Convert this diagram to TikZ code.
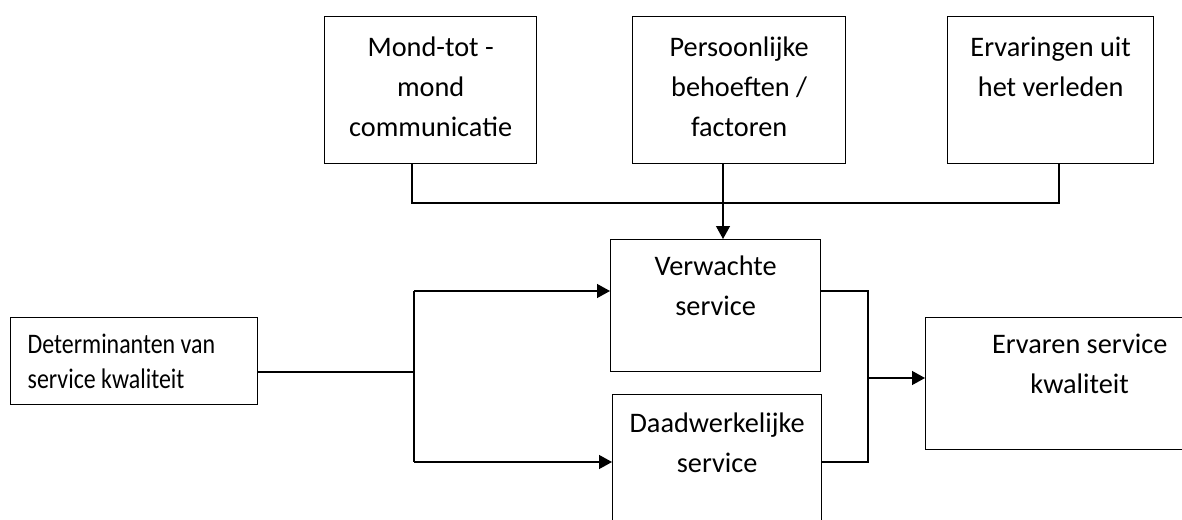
\documentclass[tikz,border=0pt]{standalone}
\usepackage{fontspec}
\usepackage{graphicx}
\setmainfont{Carlito}
\usetikzlibrary{arrows.meta}
\newcommand{\boxlines}[4]{\parbox[c][#2][t]{#1}{\centering\rule{0pt}{#3}#4}}
\newcommand{\narrow}[1]{\scalebox{0.845}[1]{#1}}

\begin{document}
\begin{tikzpicture}[x=1pt, y=-1pt,
	box/.style={draw, line width=1.3pt, inner sep=0pt, anchor=north west},
	link/.style={line width=1.3pt},
	arrow/.style={link, -{Triangle[length=13pt, width=14pt]}},
	font=\fontsize{28.3}{40}\selectfont]
\useasboundingbox (0,0) rectangle (1182,519);
\clip (0,0) rectangle (1182,519);
\node[box] (mond) at (324,16) {\boxlines{212pt}{147pt}{40pt}{Mond-tot -\\mond\\communicatie}};
\node[box] (persoon) at (632,16) {\boxlines{213pt}{147pt}{40pt}{Persoonlijke\\behoeften /\\factoren}};
\node[box] (ervaring) at (947,16) {\boxlines{206pt}{147pt}{40pt}{Ervaringen uit\\het verleden}};
\node[box] (verwacht) at (610,239) {\boxlines{210pt}{132pt}{36pt}{Verwachte\\service}};
\node[box] (daad) at (612,394) {\boxlines{209pt}{140pt}{38pt}{Daadwerkelijke\\service}};
\node[box] (ervaren) at (925,317) {\boxlines{308pt}{132pt}{36pt}{Ervaren service\\kwaliteit}};
\node[box, inner xsep=17pt, font=\fontsize{28.3}{35}\selectfont] (determ) at (10,317) {\parbox[c][87pt][t]{213pt}{\raggedright\rule{0pt}{36pt}\narrow{Determinanten van}\\\narrow{service kwaliteit}}};

\coordinate (busL) at (412,203);
\coordinate (busR) at (1059,203);
\coordinate (drop) at (723,203);
\coordinate (split) at (414,372);
\coordinate (splitTop) at (414,291);
\coordinate (splitBot) at (414,462);
\coordinate (joinTop) at (868,291);
\coordinate (joinBot) at (868,462);
\coordinate (join) at (868,378);

\draw[link] (mond.south -| busL) -- (busL) -- (busR) -- (ervaring.south -| busR);
\draw[arrow] (persoon.south -| drop) -- (verwacht.north -| drop);
\draw[link] (determ.east |- split) -- (split);
\draw[link] (splitTop) -- (splitBot);
\draw[arrow] (splitTop) -- (verwacht.west |- splitTop);
\draw[arrow] (splitBot) -- (daad.west |- splitBot);
\draw[link] (verwacht.east |- joinTop) -- (joinTop) -- (joinBot) -- (daad.east |- joinBot);
\draw[arrow] (join) -- (ervaren.west |- join);
\end{tikzpicture}
\end{document}
